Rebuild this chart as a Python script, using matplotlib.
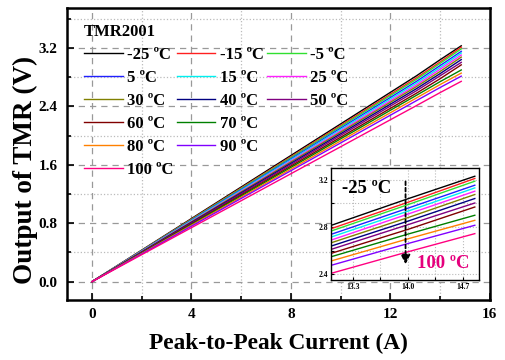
import matplotlib
matplotlib.use("Agg")
import matplotlib.pyplot as plt
from matplotlib.lines import Line2D

plt.rcParams['font.family'] = ['Liberation Serif', 'DejaVu Serif']
plt.rcParams['font.weight'] = 'bold'
plt.rcParams['axes.labelweight'] = 'bold'

# Data
temps = ["-25", "-15", "-5", "5", "15", "25", "30", "40", "50", "60", "70", "80", "90", "100"]
colors = ["#000000", "#ff2020", "#30e030", "#2020ff", "#00f0f0", "#ff20ff", "#808000",
          "#000080", "#800080", "#800000", "#008000", "#ff8000", "#8000ff", "#ff0080"]
current = [0, 13.05, 14.0, 14.85]
v_13 = [2.820, 2.792, 2.772, 2.744, 2.721, 2.695, 2.672, 2.644, 2.616, 2.582, 2.553, 2.517, 2.480, 2.412]
v_14 = [3.040, 3.010, 2.990, 2.960, 2.935, 2.910, 2.880, 2.850, 2.820, 2.780, 2.740, 2.700, 2.660, 2.590]
v_end = [3.231, 3.212, 3.189, 3.155, 3.132, 3.104, 3.076, 3.042, 3.004, 2.970, 2.900, 2.857, 2.815, 2.744]

fig = plt.figure(figsize=(5.05, 3.6), dpi=100)
ax = fig.add_axes([0.133, 0.167, 0.837, 0.811])

lines = []
for i, t in enumerate(temps):
    y = [0, v_13[i], v_14[i], v_end[i]]
    l, = ax.plot(current, y, color=colors[i], lw=1.0, label=t + " ºC")
    lines.append(l)

ax.set_xlim(-1, 16)
ax.set_ylim(-0.25, 3.75)
ax.set_xticks([0, 4, 8, 12, 16])
ax.set_xticks([2, 6, 10, 14], minor=True)
ax.set_yticks([0.0, 0.8, 1.6, 2.4, 3.2])
ax.set_yticks([0.4, 1.2, 2.0, 2.8, 3.6], minor=True)
ax.set_yticklabels(["0.0", "0.8", "1.6", "2.4", "3.2"])
ax.tick_params(which='both', direction='in', labelsize=11, width=1.2)
ax.tick_params(which='major', length=5)
ax.tick_params(which='minor', length=3)
ax.tick_params(axis='y', pad=7)
ax.tick_params(axis='x', pad=6)
ax.grid(which='major', linestyle=(0, (5, 4)), color='#999999', lw=0.9)
ax.grid(which='minor', linestyle=':', color='#bbbbbb', lw=0.9)
for s in ax.spines.values():
    s.set_linewidth(1.8)
ax.set_xlabel("Peak-to-Peak Current (A)", fontsize=16.8)
ax.set_ylabel("Output of TMR (V)", fontsize=19.5)
ax.xaxis.set_label_coords(0.50, -0.112)
ax.yaxis.set_label_coords(-0.069, 0.445)

# legend: column-major, 6 / 5 / 3 entries
blank = Line2D([], [], color='none')
order = [0, 3, 6, 9, 11, 13, 1, 4, 7, 10, 12, None, 2, 5, 8, None, None, None]
handles = [lines[k] if k is not None else blank for k in order]
labels = [lines[k].get_label() if k is not None else "" for k in order]
leg = ax.legend(handles, labels, ncol=3, loc='upper left', frameon=False,
                title="TMR2001", title_fontproperties={'weight': 'bold', 'size': 12},
                alignment='left', prop={'weight': 'bold', 'size': 12},
                handlelength=2.33, handletextpad=0.25, labelspacing=0.42,
                columnspacing=0.2, borderaxespad=0.2, bbox_to_anchor=(0.016, 0.98))

# inset
axin = fig.add_axes([0.655, 0.222, 0.293, 0.311])
for i, t in enumerate(temps):
    y = [0, v_13[i], v_14[i], v_end[i]]
    axin.plot(current, y, color=colors[i], lw=1.0)
axin.set_xlim(13.02, 14.9)
axin.set_ylim(2.35, 3.3)
axin.set_xticks([13.3, 14.0, 14.7])
axin.set_xticks([13.65, 14.35], minor=True)
axin.set_yticks([2.4, 2.8, 3.2])
axin.set_yticks([2.6, 3.0], minor=True)
axin.tick_params(which='both', direction='in', labelsize=5.5, width=0.8, length=2.5, pad=2)
axin.grid(which='both', linestyle=':', color='#bbbbbb', lw=0.8)
for s in axin.spines.values():
    s.set_linewidth(1.0)
axin.annotate("", xy=(13.97, 2.46), xytext=(13.97, 3.21),
              arrowprops=dict(arrowstyle='-|>', linestyle=(0, (2, 1.5)), color='black',
                              lw=1.3, mutation_scale=14))
axin.text(13.47, 3.13, "-25 ºC", fontsize=13.5, fontweight='bold', ha='center', va='center')
axin.text(14.45, 2.49, "100 ºC", fontsize=13.5, fontweight='bold', ha='center', va='center',
          color='#e5007d')

fig.savefig("out.png", dpi=100)
